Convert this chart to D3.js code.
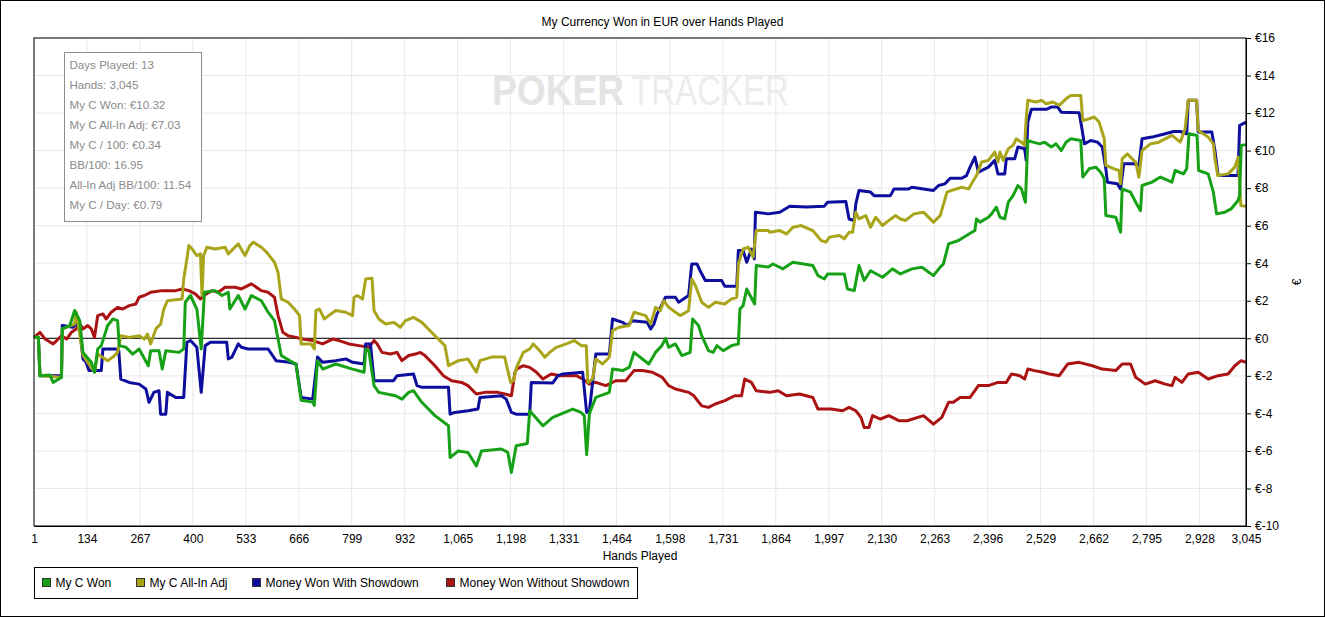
<!DOCTYPE html>
<html>
<head>
<meta charset="utf-8">
<script src="https://cdn.jsdelivr.net/npm/d3@7"></script>
<style>
  body { margin: 0; background: #fff; }
  text { font-family: "Liberation Sans", Arial, sans-serif; }
</style>
</head>
<body>
<div id="chart"></div>
<script>
// data: [hand, euros]
let myCWon = [
  [1, 0.05], [12, 0.05], [16, -2.0], [41, -1.95], [49, -2.35], [70, -2.08], [72, 0.5], [91, 0.68], [103, 1.48],
  [116, 0.94], [124, -0.75], [145, -1.28], [153, -1.81], [161, -0.57], [170, -0.39], [186, 0.68], [199, 1.03],
  [211, 0.94], [215, -0.39], [232, -0.48], [249, -0.84], [265, -0.57], [288, -1.46], [294, -0.66], [315, -0.66],
  [323, -1.64], [332, -0.66], [365, -0.75], [377, -0.57], [381, 1.92], [394, 2.28], [410, 1.56], [421, -0.57],
  [429, 2.45], [456, 2.54], [473, 2.28], [489, 2.45], [493, 1.56], [514, 2.28], [531, 1.56], [547, 2.28],
  [572, 2.0], [589, 1.39], [605, 0.94], [622, -0.92], [643, -1.19], [659, -1.37], [672, -3.3], [701, -3.4],
  [705, -3.57], [713, -1.19], [726, -1.64], [759, -1.37], [801, -1.64], [830, -1.81], [834, -0.57], [842, -0.66],
  [855, -2.52], [867, -2.88], [909, -3.06], [925, -3.24], [942, -2.88], [954, -2.79], [975, -3.41], [1008, -4.12],
  [1042, -4.66], [1046, -6.35], [1067, -6.0], [1091, -6.08], [1112, -6.8], [1125, -6.0], [1175, -5.9],
  [1191, -6.08], [1200, -7.15], [1212, -5.72], [1240, -5.6], [1246, -3.86], [1279, -4.66], [1304, -4.21],
  [1354, -3.77], [1375, -3.95], [1383, -4.12], [1389, -6.2], [1396, -4.0], [1412, -3.15], [1446, -2.88],
  [1454, -1.64], [1479, -1.72], [1496, -1.55], [1508, -0.75], [1545, -1.37], [1562, -0.75], [1578, -0.39],
  [1587, 0.0], [1595, -0.48], [1612, -0.3], [1628, -0.92], [1649, -0.75], [1655, 1.03], [1670, 0.68],
  [1678, 0.14], [1695, -0.66], [1707, -0.75], [1716, -0.39], [1732, -0.66], [1753, -0.39], [1770, -0.3],
  [1774, 1.56], [1782, 1.74], [1791, 2.63], [1811, 1.83], [1815, 3.88], [1845, 3.8], [1857, 3.96], [1882, 3.7],
  [1907, 4.05], [1957, 3.88], [1970, 3.34], [1986, 3.16], [1994, 3.43], [2036, 3.43], [2044, 2.63], [2061, 2.54],
  [2073, 3.88], [2086, 3.08], [2102, 3.6], [2132, 3.25], [2157, 3.7], [2177, 3.43], [2206, 3.7], [2231, 3.79],
  [2260, 3.34], [2277, 3.79], [2285, 3.96], [2298, 5.03], [2323, 5.21], [2343, 5.48], [2364, 5.74], [2368, 6.36],
  [2377, 6.19], [2398, 6.45], [2406, 6.63], [2418, 6.99], [2427, 6.45], [2439, 6.36], [2448, 7.25], [2460, 7.6],
  [2472, 8.14], [2481, 7.96], [2491, 7.25], [2497, 10.54], [2510, 10.45], [2527, 10.36], [2539, 10.45],
  [2556, 10.19], [2568, 10.36], [2581, 10.0], [2593, 10.45], [2605, 10.63], [2630, 10.54], [2635, 8.59],
  [2651, 9.03], [2668, 9.12], [2680, 8.85], [2689, 8.5], [2693, 6.54], [2718, 6.45], [2730, 5.65], [2734, 7.96],
  [2755, 7.79], [2768, 7.25], [2780, 6.8], [2784, 8.14], [2809, 8.32], [2830, 8.59], [2859, 8.32], [2867, 8.94],
  [2888, 8.76], [2896, 9.03], [2902, 10.9], [2922, 10.81], [2926, 8.94], [2950, 8.76], [2963, 7.79], [2971, 6.63],
  [2992, 6.72], [3008, 6.9], [3025, 7.34], [3029, 7.6], [3033, 10.28], [3045, 10.32]
];

let allInAdj = [
  [1, 0.05], [12, 0.05], [16, -2.0], [70, -2.08], [72, 0.5], [103, 0.76], [107, 1.4], [124, -0.9], [136, -1.28],
  [153, -1.81], [161, -0.84], [186, -1.19], [199, -1.0], [211, -0.75], [219, 0.14], [240, 0.05], [265, 0.14],
  [278, -0.04], [286, 0.23], [294, -0.3], [307, 0.5], [319, 0.76], [327, 1.56], [336, 2.0], [373, 2.1], [377, 3.16],
  [385, 4.23], [390, 4.94], [398, 4.76], [410, 4.41], [419, 4.5], [423, 2.28], [427, 4.41], [435, 4.85], [456, 4.76],
  [481, 4.85], [489, 4.5], [514, 5.03], [531, 4.41], [543, 4.94], [552, 5.12], [572, 4.85], [585, 4.59], [605, 4.05],
  [614, 3.5], [622, 2.1], [639, 1.92], [655, 1.56], [668, 1.21], [672, -0.3], [697, -0.3], [705, -0.57], [709, 1.48],
  [718, 1.56], [730, 1.03], [747, 1.3], [759, 1.48], [784, 1.39], [801, 1.21], [805, 2.19], [813, 2.28], [826, 2.1],
  [834, 3.16], [850, 3.2], [855, 1.48], [867, 1.03], [884, 0.76], [905, 0.85], [921, 0.59], [934, 0.94], [954, 1.12],
  [975, 0.85], [1008, 0.14], [1033, -0.39], [1042, -1.46], [1067, -1.19], [1091, -1.1], [1112, -1.81], [1121, -1.19],
  [1150, -1.0], [1183, -1.0], [1198, -2.35], [1205, -2.26], [1213, -1.55], [1230, -0.75], [1246, -0.57], [1255, -0.3],
  [1271, -0.66], [1284, -1.01], [1296, -0.75], [1313, -0.48], [1338, -0.3], [1358, -0.12], [1375, -0.39],
  [1388, -0.39], [1392, -2.35], [1404, -2.17], [1412, -1.1], [1429, -1.37], [1446, -1.01], [1454, 0.41], [1471, 0.59],
  [1496, 0.68], [1508, 1.39], [1537, 1.21], [1550, 0.76], [1562, 1.65], [1574, 1.47], [1583, 2.0], [1595, 1.65],
  [1612, 1.39], [1624, 1.21], [1645, 1.47], [1653, 3.16], [1662, 2.81], [1678, 1.92], [1695, 1.65], [1712, 1.92],
  [1736, 1.83], [1753, 2.1], [1766, 2.19], [1770, 3.96], [1782, 4.76], [1795, 4.85], [1807, 4.32], [1815, 5.74],
  [1845, 5.74], [1849, 5.65], [1874, 5.74], [1891, 5.56], [1907, 5.92], [1928, 6.01], [1957, 5.74], [1978, 5.21],
  [1990, 5.12], [1999, 5.39], [2024, 5.48], [2036, 5.3], [2048, 5.65], [2057, 5.65], [2065, 6.72], [2073, 6.36],
  [2090, 6.54], [2102, 5.92], [2115, 6.45], [2132, 6.01], [2148, 6.28], [2165, 6.54], [2177, 6.36], [2190, 6.28],
  [2211, 6.63], [2235, 6.72], [2260, 6.19], [2277, 6.54], [2294, 7.79], [2306, 7.88], [2331, 8.05], [2348, 7.96],
  [2368, 8.67], [2381, 9.39], [2398, 9.48], [2414, 9.92], [2422, 9.39], [2427, 9.92], [2435, 9.48], [2448, 10.1],
  [2460, 10.28], [2468, 10.63], [2481, 10.45], [2489, 10.28], [2493, 11.7], [2497, 12.68], [2518, 12.59],
  [2531, 12.68], [2543, 12.5], [2560, 12.59], [2576, 12.41], [2593, 12.76], [2605, 12.94], [2630, 12.94],
  [2635, 11.6], [2651, 11.7], [2664, 11.79], [2676, 11.52], [2689, 10.63], [2693, 9.21], [2714, 9.03], [2726, 8.94],
  [2730, 8.23], [2734, 9.56], [2747, 9.83], [2759, 9.56], [2768, 9.39], [2776, 8.59], [2784, 10.0], [2805, 10.36],
  [2826, 10.45], [2859, 10.81], [2880, 10.45], [2892, 11.16], [2900, 12.68], [2921, 12.68], [2925, 11.07],
  [2950, 10.72], [2963, 10.36], [2967, 9.56], [2974, 8.68], [3000, 8.76], [3017, 9.12], [3025, 9.65], [3032, 7.08],
  [3045, 7.03]
];

let withShowdown = [
  [1, 0.05], [12, 0.05], [16, -2.0], [41, -2.0], [49, -2.0], [70, -2.0], [72, 0.68], [99, 0.59], [107, 0.76],
  [116, 0.5], [124, -1.1], [132, -1.28], [139, -1.72], [170, -1.72], [174, -0.57], [207, -0.57], [214, -0.66],
  [219, -2.17], [240, -2.35], [265, -2.44], [282, -2.7], [290, -3.41], [302, -2.88], [315, -2.79], [319, -4.04],
  [332, -4.04], [336, -2.88], [357, -3.15], [377, -3.15], [385, -0.21], [394, -0.12], [410, -0.48], [421, -2.88],
  [431, -0.39], [444, -0.21], [485, -0.21], [489, -1.1], [498, -1.0], [514, -0.3], [522, -0.48], [539, -0.57],
  [589, -0.57], [609, -1.19], [643, -1.28], [659, -1.37], [672, -3.15], [701, -3.24], [713, -1.0], [726, -1.28],
  [759, -1.19], [784, -1.1], [801, -1.28], [830, -1.37], [834, -0.3], [846, -0.3], [855, -2.26], [904, -2.26],
  [913, -1.99], [954, -1.9], [963, -2.52], [975, -2.61], [1042, -2.61], [1046, -4.04], [1058, -3.95], [1091, -3.86],
  [1116, -3.77], [1121, -3.15], [1175, -3.06], [1187, -3.24], [1200, -3.95], [1212, -4.04], [1246, -4.04],
  [1250, -2.35], [1304, -2.38], [1317, -1.99], [1329, -1.9], [1379, -1.81], [1389, -3.95], [1396, -3.86],
  [1412, -0.84], [1446, -0.84], [1454, 1.03], [1479, 0.85], [1491, 0.68], [1504, 0.94], [1541, 0.85], [1550, 0.5],
  [1558, 0.76], [1566, 1.3], [1579, 1.83], [1587, 2.19], [1612, 2.19], [1620, 1.92], [1645, 2.28], [1653, 3.96],
  [1666, 3.96], [1674, 3.6], [1687, 3.08], [1728, 3.08], [1736, 2.77], [1766, 2.77], [1770, 4.68], [1782, 4.68],
  [1791, 4.05], [1803, 4.76], [1810, 4.23], [1813, 6.72], [1845, 6.63], [1874, 6.72], [1899, 7.04], [1940, 6.99],
  [1986, 7.04], [1994, 7.25], [2040, 7.29], [2048, 6.36], [2061, 6.28], [2065, 7.16], [2073, 7.88], [2102, 7.79],
  [2111, 7.6], [2152, 7.6], [2161, 7.96], [2198, 7.96], [2206, 8.05], [2260, 7.88], [2273, 8.14], [2289, 8.23],
  [2302, 8.53], [2331, 8.53], [2343, 8.67], [2352, 9.12], [2364, 9.65], [2373, 8.85], [2398, 9.12], [2414, 9.48],
  [2422, 8.76], [2439, 8.76], [2443, 9.56], [2464, 9.56], [2472, 10.19], [2489, 10.1], [2493, 9.48], [2497, 11.52],
  [2506, 12.2], [2543, 12.2], [2556, 12.32], [2572, 12.32], [2581, 12.05], [2626, 12.02], [2633, 11.16],
  [2639, 10.36], [2655, 10.54], [2672, 10.45], [2684, 10.19], [2693, 9.03], [2697, 8.32], [2722, 8.23], [2730, 7.96],
  [2738, 9.3], [2763, 9.3], [2776, 9.21], [2784, 10.63], [2809, 10.72], [2842, 10.9], [2863, 11.02], [2880, 11.02],
  [2896, 10.9], [2900, 12.68], [2921, 12.68], [2925, 10.99], [2959, 10.99], [2967, 10.0], [2975, 8.68], [3025, 8.68],
  [3029, 11.34], [3045, 11.52]
];

let withoutShowdown = [
  [1, 0.05], [16, 0.32], [29, -0.04], [49, -0.3], [58, -0.12], [70, 0.14], [83, -0.04], [95, 0.32], [107, 0.5],
  [116, 0.76], [124, 0.5], [136, 0.68], [145, 0.5], [153, 0.05], [161, 1.21], [174, 1.3], [182, 1.03], [195, 1.39],
  [211, 1.65], [224, 1.56], [240, 1.74], [257, 1.83], [265, 2.19], [278, 2.28], [294, 2.45], [323, 2.54], [357, 2.54],
  [373, 2.63], [390, 2.54], [406, 2.37], [419, 2.1], [427, 2.28], [448, 2.54], [464, 2.45], [481, 2.72], [506, 2.72],
  [522, 2.63], [547, 2.9], [572, 2.54], [589, 2.45], [605, 2.19], [614, 1.21], [626, 0.32], [639, 0.14], [659, 0.05],
  [676, -0.04], [701, -0.12], [726, -0.3], [751, -0.04], [767, -0.12], [792, -0.3], [817, -0.39], [842, -0.48],
  [855, -0.12], [863, -0.3], [875, -0.75], [896, -0.84], [913, -0.75], [925, -1.19], [942, -0.92], [959, -0.84],
  [971, -0.75], [983, -0.92], [1008, -1.46], [1029, -1.99], [1050, -2.26], [1075, -2.35], [1091, -2.52],
  [1112, -2.97], [1133, -2.88], [1166, -2.88], [1183, -2.97], [1200, -3.06], [1209, -1.81], [1213, -1.64],
  [1230, -1.46], [1246, -1.55], [1263, -1.81], [1279, -2.17], [1300, -1.9], [1321, -1.99], [1363, -1.99],
  [1379, -2.17], [1396, -2.44], [1412, -2.35], [1437, -2.52], [1462, -2.26], [1487, -2.26], [1508, -1.72],
  [1529, -1.72], [1554, -1.81], [1579, -2.08], [1595, -2.52], [1612, -2.7], [1645, -2.88], [1658, -3.06],
  [1678, -3.6], [1695, -3.68], [1712, -3.5], [1736, -3.32], [1761, -3.06], [1778, -3.06], [1786, -2.17],
  [1803, -2.35], [1815, -2.79], [1849, -2.88], [1870, -2.79], [1891, -3.06], [1924, -2.97], [1957, -3.15],
  [1970, -3.77], [2003, -3.77], [2032, -3.86], [2048, -3.68], [2065, -3.86], [2078, -4.21], [2086, -4.75],
  [2098, -4.75], [2107, -4.12], [2127, -4.3], [2148, -4.12], [2173, -4.39], [2194, -4.39], [2235, -4.12],
  [2260, -4.57], [2281, -4.21], [2298, -3.41], [2310, -3.41], [2327, -3.15], [2352, -3.15], [2373, -2.52],
  [2398, -2.52], [2422, -2.35], [2443, -2.35], [2456, -1.9], [2477, -1.99], [2489, -2.17], [2497, -1.64],
  [2514, -1.72], [2535, -1.81], [2551, -1.9], [2576, -1.99], [2597, -1.37], [2626, -1.28], [2659, -1.46],
  [2684, -1.64], [2718, -1.72], [2734, -1.37], [2755, -1.37], [2768, -2.08], [2792, -2.44], [2817, -2.26],
  [2842, -2.44], [2859, -2.52], [2867, -2.08], [2884, -2.35], [2900, -1.9], [2925, -1.81], [2950, -2.17],
  [2975, -1.99], [3000, -1.9], [3017, -1.46], [3033, -1.19], [3045, -1.28]
];

let seriesNames = ["My C Won", "My C All-In Adj", "Money Won With Showdown", "Money Won Without Showdown"];
let seriesColors = ["#17a117", "#a9a51b", "#0d0d9e", "#ab1212"];
let handTicks = [1, 134, 267, 400, 533, 666, 799, 932, 1065, 1198, 1331, 1464, 1598, 1731, 1864, 1997,
  2130, 2263, 2396, 2529, 2662, 2795, 2928, 3045];
let euroTicks = [-10, -8, -6, -4, -2, 0, 2, 4, 6, 8, 10, 12, 14, 16];
let statLines = ["Days Played: 13", "Hands: 3,045", "My C Won: €10.32", "My C All-In Adj: €7.03",
  "My C / 100: €0.34", "BB/100: 16.95", "All-In Adj BB/100: 11.54", "My C / Day: €0.79"];

let svgWidth = 1325;
let svgHeight = 617;
let margin = { top: 38, right: 79, bottom: 91, left: 34 };
let width = svgWidth - margin.left - margin.right;
let height = svgHeight - margin.top - margin.bottom;

let svg = d3.select("#chart").append("svg")
  .attr("width", svgWidth)
  .attr("height", svgHeight);

// outer frame
svg.append("rect")
  .attr("x", 0.5).attr("y", 0.5)
  .attr("width", svgWidth - 1).attr("height", svgHeight - 1)
  .attr("fill", "#fff").attr("stroke", "#000");

svg.append("text")
  .attr("x", svgWidth / 2).attr("y", 26)
  .attr("text-anchor", "middle")
  .attr("font-size", "12px")
  .text("My Currency Won in EUR over Hands Played");

let chartGroup = svg.append("g")
  .attr("transform", `translate(${margin.left}, ${margin.top})`);

let x = d3.scaleLinear().domain([1, 3045]).range([0, width]);
let y = d3.scaleLinear().domain([-10, 16]).range([height, 0]);

// grid
chartGroup.append("g").selectAll("line")
  .data(handTicks).enter().append("line")
  .attr("x1", d => x(d)).attr("x2", d => x(d))
  .attr("y1", 0).attr("y2", height)
  .attr("stroke", "#e8e8e8");
chartGroup.append("g").selectAll("line")
  .data(euroTicks).enter().append("line")
  .attr("x1", 0).attr("x2", width)
  .attr("y1", d => y(d)).attr("y2", d => y(d))
  .attr("stroke", "#e8e8e8");

// watermark
chartGroup.append("text")
  .attr("x", 458).attr("y", 67)
  .attr("font-size", "43px")
  .attr("font-weight", "bold")
  .attr("fill", "#e4e4e4")
  .attr("textLength", 132)
  .attr("lengthAdjust", "spacingAndGlyphs")
  .text("POKER");
chartGroup.append("text")
  .attr("x", 597).attr("y", 67)
  .attr("font-size", "43px")
  .attr("fill", "#ececec")
  .attr("textLength", 158)
  .attr("lengthAdjust", "spacingAndGlyphs")
  .text("TRACKER");

// zero line
chartGroup.append("line")
  .attr("x1", 0).attr("x2", width)
  .attr("y1", y(0)).attr("y2", y(0))
  .attr("stroke", "#000");

// series
let line = d3.line()
  .x(d => x(d[0]))
  .y(d => y(d[1]));

let seriesData = [myCWon, allInAdj, withShowdown, withoutShowdown];
let drawOrder = [3, 2, 1, 0];
drawOrder.forEach(i => {
  chartGroup.append("path")
    .datum(seriesData[i])
    .attr("d", line)
    .attr("fill", "none")
    .attr("stroke", seriesColors[i])
    .attr("stroke-width", 3)
    .attr("stroke-linejoin", "round");
});

// frame of plot
chartGroup.append("rect")
  .attr("x", 0).attr("y", 0)
  .attr("width", width).attr("height", height)
  .attr("fill", "none").attr("stroke", "#000");

// axes
let bottomAxis = d3.axisBottom(x).tickValues(handTicks).tickSize(0).tickPadding(8).tickFormat(d3.format(","));
let rightAxis = d3.axisRight(y).tickValues(euroTicks).tickSize(5).tickPadding(4).tickFormat(d => "€" + d);

let gx = chartGroup.append("g")
  .attr("transform", `translate(0, ${height})`)
  .call(bottomAxis);
let gy = chartGroup.append("g")
  .attr("transform", `translate(${width}, 0)`)
  .call(rightAxis);
[gx, gy].forEach(g => {
  g.select(".domain").attr("stroke", "#000");
  g.selectAll("text").attr("font-size", "12px").attr("fill", "#000")
    .attr("font-family", "Liberation Sans, Arial, sans-serif");
});

chartGroup.append("text")
  .attr("x", width / 2).attr("y", height + 34)
  .attr("text-anchor", "middle")
  .attr("font-size", "12px")
  .text("Hands Played");

chartGroup.append("text")
  .attr("transform", `translate(${width + 55}, ${height / 2}) rotate(-90)`)
  .attr("text-anchor", "middle")
  .attr("font-size", "12px")
  .text("€");

// stats box
let statBox = chartGroup.append("g").attr("transform", "translate(30.5, 14.5)");
statBox.append("rect")
  .attr("width", 137).attr("height", 169)
  .attr("fill", "#fff").attr("stroke", "#8c8c8c");
statBox.selectAll("text")
  .data(statLines).enter().append("text")
  .attr("x", 5)
  .attr("y", (d, i) => 16 + i * 20)
  .attr("font-family", "Noto Sans, sans-serif")
  .attr("font-size", "11.6px")
  .attr("fill", "#8a8a8a")
  .text(d => d);

// legend
let legend = svg.append("g").attr("transform", "translate(34.5, 567.5)");
legend.append("rect")
  .attr("width", 603).attr("height", 31)
  .attr("fill", "#fff").attr("stroke", "#000");
let legendX = [8, 102, 218, 412];
let items = legend.selectAll("g.item")
  .data(seriesNames).enter().append("g")
  .attr("transform", (d, i) => `translate(${legendX[i]}, 11)`);
items.append("rect")
  .attr("width", 8).attr("height", 8)
  .attr("fill", (d, i) => seriesColors[i])
  .attr("stroke", "#333");
items.append("text")
  .attr("x", 13).attr("y", 8.5)
  .attr("font-size", "12px")
  .text(d => d);
</script>
</body>
</html>
